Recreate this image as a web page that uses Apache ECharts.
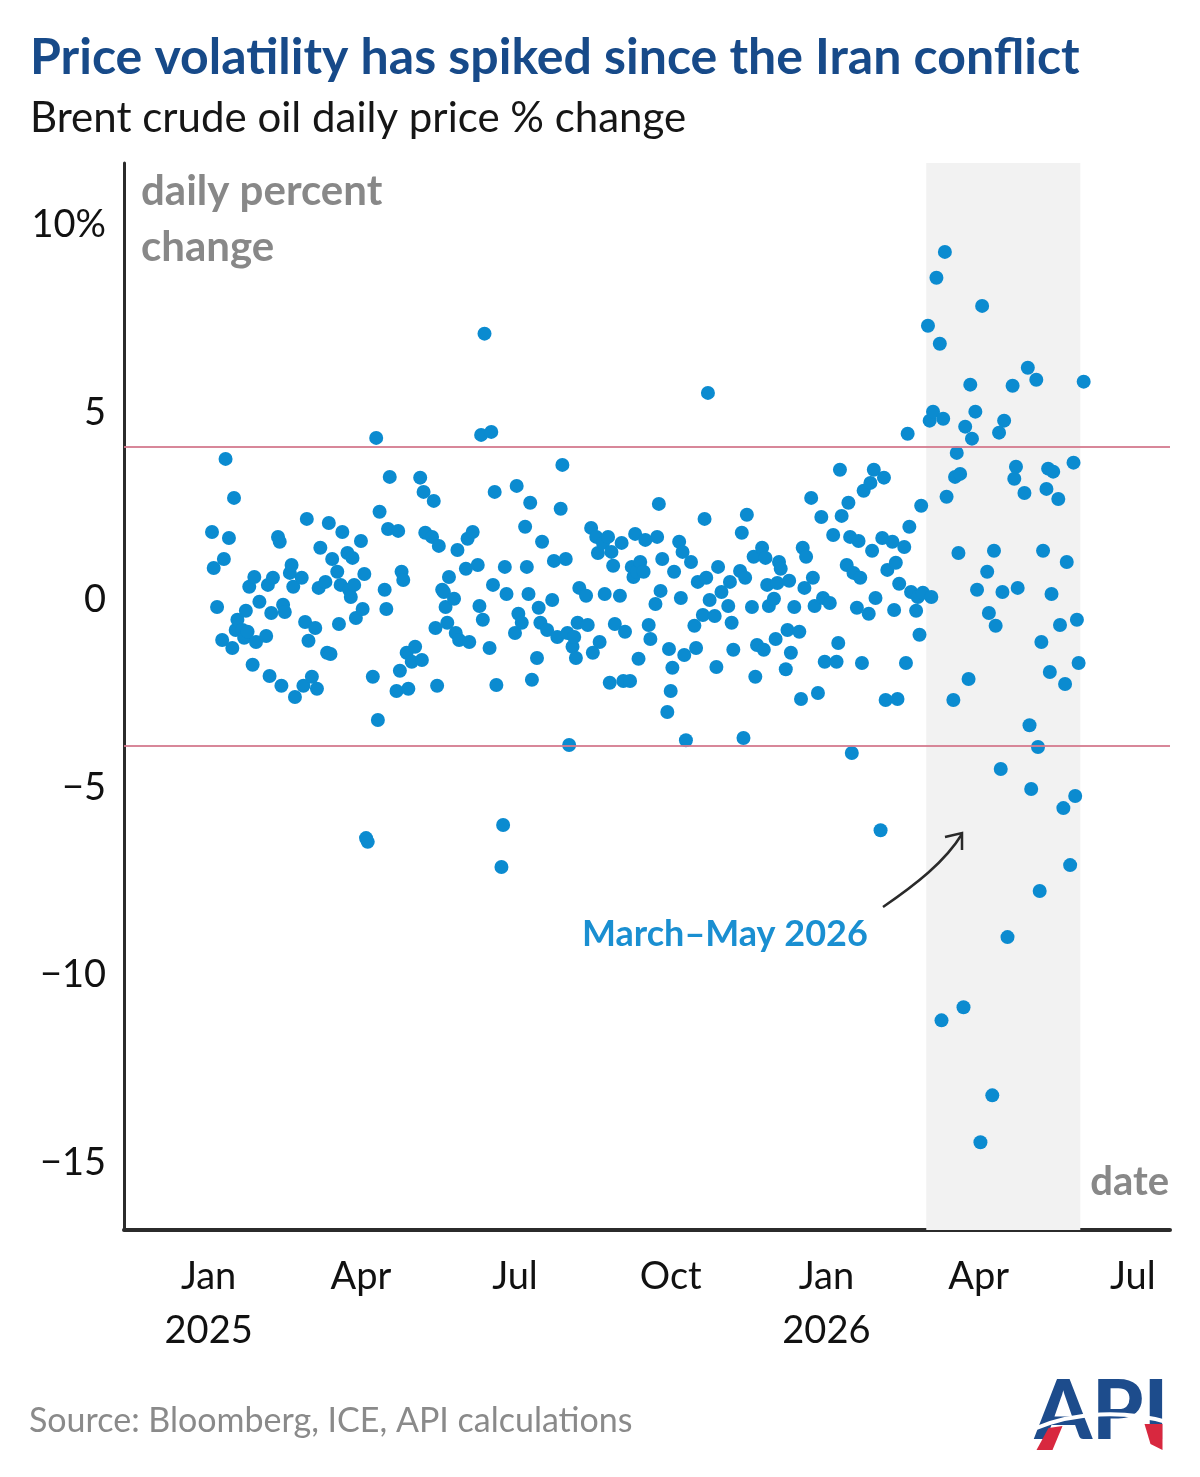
<!DOCTYPE html>
<html>
<head>
<meta charset="utf-8">
<script src="https://cdn.jsdelivr.net/npm/echarts@6/dist/echarts.min.js"></script>
<style>
  html, body { margin: 0; padding: 0; background: #fff; }
  #chart-container { width: 1200px; height: 1477px; }
</style>
</head>
<body>
<div id="chart-container"></div>
<script>
const FONT = 'Lato, "Noto Sans", sans-serif';

// trading days, counted in days since 1 Jan 2025
const days = [
  2, 3, 5, 8, 9, 10, 12, 14, 15, 16, 17, 20, 21, 22, 23, 24, 26, 27, 28, 30,
  34, 35, 36, 37, 38, 41, 42, 43, 44, 45, 48, 49, 50, 51, 55, 56, 57, 58, 59, 61,
  63, 64, 65, 66, 69, 70, 71, 72, 73, 76, 77, 78, 79, 82, 83, 84, 85, 86, 87, 90,
  91, 92,
  93, 94, 97, 99, 100, 101, 104, 105, 106, 107, 111, 112, 113, 114, 115, 117, 118, 120, 122, 125,
  126, 127, 128, 132, 133, 134, 135, 136, 138, 139, 140, 141, 142, 145, 146, 147, 148, 152, 153, 154,
  156, 159, 160, 161, 162, 163, 166, 167, 168, 169, 170, 173, 174, 175, 176, 181, 182, 183, 185, 187,
  188, 189, 190, 191, 194, 195, 196, 197, 200, 203,
  204, 206, 208, 209, 211, 212, 213, 215, 216, 217, 218, 219, 223, 224, 226, 227, 229, 230, 231, 233,
  234, 236, 237, 238, 239, 240, 243, 244, 245, 246, 249, 250, 251, 252, 253, 254, 255, 257, 258, 260,
  261, 264, 265, 266, 267, 268, 271, 272, 273, 274, 275, 278, 279, 280, 281, 282, 285, 287, 288, 289,
  292, 293, 294, 295, 296, 299, 300, 301, 303, 307, 308, 309, 310,
  314, 315, 316, 317, 318, 321, 322, 323, 324, 327, 328, 329, 330, 331, 334, 335, 336, 337, 338, 341,
  342, 343, 344, 346, 349, 350, 351, 352, 353, 356, 357, 358, 360, 362, 363, 364, 367, 369, 371, 372,
  373, 374, 377, 378, 379, 380, 381, 383, 384, 385, 386, 387, 390, 391, 392, 393, 394, 397, 398, 399,
  400, 401, 404, 405, 406, 407, 408, 411, 412, 413, 414, 415, 418, 419, 420, 421, 422,
  425, 426, 427, 428, 430, 432, 433, 434, 435, 436, 440, 441, 442, 443, 444, 446, 447, 449, 450, 451,
  453, 454, 456, 457, 460, 461, 463, 464, 465, 467, 468, 469, 470, 472, 475, 476, 477, 478, 482, 484,
  485, 486, 489, 490, 491, 492, 493, 495, 496, 497, 498, 499, 502, 503, 505, 506, 507, 509, 511, 512,
  513, 514, 517
];

// Brent daily % change, same order as days
const pctChange = [
  1.81, 0.85, -0.19, -1.07, 1.09, 3.76, 1.65, -1.28, 2.72, -0.80, -0.53, -0.80, -1.01, -0.29, -0.85, 0.35, -1.73, 0.61, -1.12, -0.05,
  -0.96, 0.40, -2.03, -0.35, 0.59, 1.68, 1.55, -2.29, -0.13, -0.32, 0.72, 0.93, 0.35, -2.59, 0.59, -2.29, -0.59, 2.16, -1.09, -2.05,
  -0.75, -2.37, 0.32, 1.39, 0.48, -1.41, 2.05, -1.44, 1.09, 0.75, -0.64, 0.40, 1.81, 1.25, 0.27, 0.08, 1.12, 0.40, -0.48, 1.57,
  -0.24, 0.69,
  -6.35, -6.45, -2.05, 4.32, -3.20, 2.35, 0.27, -0.24, 1.89, 3.28, -2.43, 1.84, -1.89, 0.75, 0.53, -1.41, -2.37, -1.65, -1.25, 3.26,
  -1.60, 2.88, 1.79, 1.68, 2.64, -0.75, -2.29, 1.44, 0.27, 0.21, -0.19, -0.61, 0.61, 0.03, -0.88, 1.33, -1.07, 0.83, 1.63, -1.12,
  1.81, 0.93, -0.16, 4.40, -0.53, 7.10, -1.28, 4.48, 0.40, 2.88, -2.27, -7.12, -6.00, 0.88, 0.16, -0.88, 3.04, -0.37, -0.61, 1.95,
  0.88, 0.16, 2.59, -2.13, -1.55, -0.21, -0.61, 1.55, -0.80, 0.00,
  1.04, -0.99, 2.43, 3.60, 1.09, -0.88, -3.87, -1.25, -0.99, -1.55, -0.61, 0.32, 0.11, -0.67, 1.92, -1.41, 1.68, 1.25, -1.12, 1.52,
  0.16, 1.68, -2.21, 1.28, 0.91, -0.64, 0.11, 1.52, -2.16, -0.85, -2.16, 0.88, 0.61, 1.76, 0.75, -1.57, 1.01, 0.75, 1.60, -0.67,
  -1.04, -0.11, 1.68, 2.56, 0.24, 1.09, -2.99, -1.31, -2.43, -1.81, 0.75, 1.55, 0.05, 1.28, -1.47, -3.74, 1.01, -0.69, -1.28, 0.48,
  -0.40, 2.16, 0.59, 5.52, 0.00, -0.43, -1.79, 0.88, 0.21, -0.16, 0.48, -0.61, -1.33,
  0.77, 1.79, -3.68, 0.59, 2.27, -0.19, 1.15, -2.05, -1.20, 1.39, -1.33, 1.12, 0.40, -0.16, 0.03, -1.04, 0.45, 1.01, 0.83, -1.85,
  -0.80, 0.51, -1.41, -0.19, -0.85, -2.64, 1.39, 0.32, 1.15, 2.72, 0.59, -0.16, -2.48, 2.21, 0.05, -1.65, -0.08, 1.73, -1.65, -1.15,
  3.47, 2.24, 0.93, 2.59, 1.68, -4.08, 0.72, -0.21, 1.57, 0.59, -1.68, 2.91, -0.37, 3.12, 1.31, 3.47, 0.05, -6.14, 1.65, 3.26,
  -2.67, 0.80, 1.55, -0.27, 0.99, -2.64, 0.43, 1.41, -1.68, 4.43, 1.95, 0.21, -0.29, 0.08, -0.93, 2.51, 0.19,
  7.31, 4.78, 0.08, 5.02, 8.59, 6.83, -11.21, 4.83, 9.28, 2.75, -2.67, 3.28, 3.92, 1.25, 3.36, -10.86, 4.62, -2.11, 5.74, 4.30,
  5.02, 0.27, -14.46, 7.84, 0.75, -0.35, -13.21, 1.31, -0.69, 4.46, -4.51, 0.21, 4.78, -8.99, 5.71, 3.23, 3.55, 0.32, 2.85, 6.19,
  -3.34, -5.04, 5.87, -3.92, -7.76, -1.12, 1.31, 2.96, 3.50, -1.92, 0.16, 3.42, 2.69, -0.67, -5.55, -2.24, 1.01, -7.07, 3.66, -5.23,
  -0.53, -1.68, 5.82
];

const bandLines = [4.08, -3.9];
const shadeFrom = '2026-03-01';
const shadeTo = '2026-05-31';

const xTickDates = ['2025-01-01', '2025-04-01', '2025-07-01', '2025-10-01', '2026-01-01', '2026-04-01', '2026-07-01'];
const xTickLabels = ['Jan\n2025', 'Apr', 'Jul', 'Oct', 'Jan\n2026', 'Apr', 'Jul'];
const yTicks = [-15, -10, -5, 0, 5, 10];

function toTime(s) {
  const p = s.split('-').map(Number);
  return new Date(p[0], p[1] - 1, p[2]).getTime();
}
const seriesData = days.map(function (d, i) {
  return [new Date(2025, 0, 1 + d).getTime(), pctChange[i]];
});
const xTickTimes = xTickDates.map(toTime);

var dom = document.getElementById('chart-container');
var myChart = echarts.init(dom, null, { renderer: 'canvas' });

var option = {
  backgroundColor: '#fff',
  animation: false,
  textStyle: { fontFamily: FONT },
  title: {
    text: 'Price volatility has spiked since the Iran conflict',
    subtext: 'Brent crude oil daily price % change',
    left: 25,
    top: 28,
    itemGap: 14,
    textStyle: { fontFamily: FONT, fontSize: 50, fontWeight: 'bold', color: '#174a89' },
    subtextStyle: { fontFamily: FONT, fontSize: 42, color: '#161616' }
  },
  grid: { left: 124, right: 30, top: 163, bottom: 247 },
  xAxis: {
    type: 'value',
    min: toTime('2024-11-12'),
    max: toTime('2026-07-23'),
    splitLine: { show: false },
    axisTick: { show: false },
    axisLine: { onZero: false, lineStyle: { color: '#2b2b2b', width: 4 } },
    axisLabel: {
      customValues: xTickTimes,
      formatter: function (v) {
        const i = xTickTimes.indexOf(v);
        return i >= 0 ? xTickLabels[i] : '';
      },
      fontFamily: FONT,
      fontSize: 38,
      lineHeight: 54,
      color: '#111',
      margin: 20
    }
  },
  yAxis: {
    type: 'value',
    min: -16.8,
    max: 11.65,
    splitLine: { show: false },
    axisTick: { show: false },
    axisLine: { show: true, onZero: false, lineStyle: { color: '#2b2b2b', width: 3 } },
    axisLabel: {
      customValues: yTicks,
      formatter: function (v) {
        if (v === 10) return '10%';
        if (v < 0) return '\u2212' + Math.abs(v);
        return String(v);
      },
      fontFamily: FONT,
      fontSize: 38,
      color: '#111',
      margin: 18
    }
  },
  series: [
    {
      name: 'shade',
      type: 'line',
      data: [],
      silent: true,
      z: 0,
      markArea: {
        silent: true,
        itemStyle: { color: '#f2f2f2' },
        data: [[{ xAxis: toTime(shadeFrom) }, { xAxis: toTime(shadeTo) }]]
      }
    },
    {
      name: 'Brent daily % change',
      type: 'scatter',
      symbolSize: 14,
      itemStyle: { color: '#0b8bd0', opacity: 1 },
      data: seriesData,
      markLine: {
        silent: true,
        symbol: 'none',
        label: { show: false },
        lineStyle: { color: '#d47a8e', width: 2, type: 'solid', opacity: 0.9 },
        data: bandLines.map(function (v) { return { yAxis: v }; })
      }
    }
  ],
  graphic: [
    {
      type: 'text', left: 141, top: 163, z: 100,
      style: { text: 'daily percent\nchange', font: 'bold 42px ' + FONT, fill: '#888', lineHeight: 56 }
    },
    {
      type: 'text', right: 31, top: 1162, z: 100,
      style: { text: 'date', font: 'bold 40px ' + FONT, fill: '#888' }
    },
    {
      type: 'text', left: 582, top: 916, z: 100,
      style: { text: 'March\u2013May 2026', font: 'bold 36px ' + FONT, fill: '#1a8fd1' }
    },
    {
      type: 'bezierCurve', z: 100,
      shape: { x1: 883, y1: 907, x2: 962, y2: 834, cpx1: 915, cpy1: 885, cpx2: 945, cpy2: 862 },
      style: { stroke: '#2a2a2a', lineWidth: 2.5, fill: null }
    },
    {
      type: 'polyline', z: 100,
      shape: { points: [[945, 837], [962, 833], [962, 850]] },
      style: { stroke: '#2a2a2a', lineWidth: 2.5, fill: null }
    },
    {
      type: 'text', left: 29, top: 1404, z: 100,
      style: { text: 'Source: Bloomberg, ICE, API calculations', font: '34px ' + FONT, fill: '#8a8a8a' }
    },
    // API logo, drawn roughly
    {
      type: 'group', left: 1034, top: 1372, z: 100,
      children: [
        { type: 'text', left: 0, top: -6, style: { text: 'API', font: '900 82px ' + FONT, fill: '#1d4c8c' } },
        { type: 'polygon', shape: { points: [[2, 72], [14, 50], [28, 48], [18, 72]] }, style: { fill: '#d8283f' } },
        { type: 'polygon', shape: { points: [[110, 46], [128, 46], [128, 72], [116, 66]] }, style: { fill: '#d8283f' } },
        { type: 'bezierCurve', shape: { x1: 2, y1: 50, x2: 132, y2: 44, cpx1: 40, cpy1: 34, cpx2: 90, cpy2: 32 }, style: { stroke: '#fff', lineWidth: 4, fill: null } }
      ]
    }
  ]
};

myChart.setOption(option);
</script>
</body>
</html>
